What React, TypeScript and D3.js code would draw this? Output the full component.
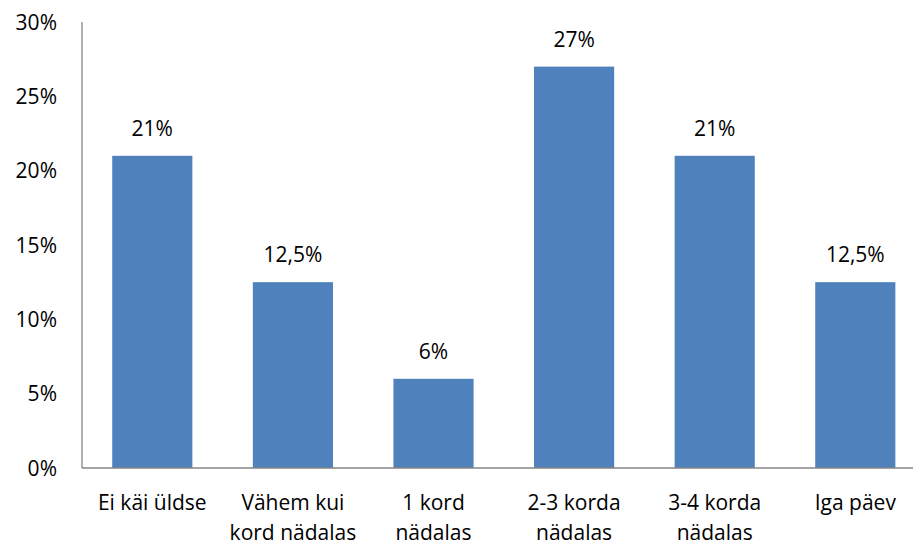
import React from "react";
import * as d3 from "d3";

const categories = [
  ["Ei käi üldse"],
  ["Vähem kui", "kord nädalas"],
  ["1 kord", "nädalas"],
  ["2-3 korda", "nädalas"],
  ["3-4 korda", "nädalas"],
  ["Iga päev"],
];
const values = [21, 12.5, 6, 27, 21, 12.5];
const valueLabels = ["21%", "12,5%", "6%", "27%", "21%", "12,5%"];
const yTicks = [0, 5, 10, 15, 20, 25, 30];

const width = 913;
const height = 547;
const margin = { top: 22, bottom: 79, left: 82 };
const step = 140.6;
const font = "'Open Sans', sans-serif";
const fs = 21;

export default function App() {
  // categories keep running a little past the right edge, as in the source
  const x = d3
    .scaleBand<number>()
    .domain(d3.range(categories.length))
    .range([margin.left, margin.left + step * categories.length])
    .paddingInner(0.43)
    .paddingOuter(0.215);
  const y = d3
    .scaleLinear()
    .domain([0, 30])
    .range([height - margin.bottom, margin.top]);

  return (
    <svg
      width={width}
      height={height}
      style={{ position: "absolute", left: 0, top: 0, fontFamily: font }}
    >
      {values.map((v, i) => (
        <g key={i}>
          <rect
            x={x(i)}
            y={y(v)}
            width={x.bandwidth()}
            height={y(0) - y(v)}
            fill="#4f81bd"
          />
          <text
            x={x(i)! + x.bandwidth() / 2}
            y={y(v) - 20}
            textAnchor="middle"
            fontSize={fs}
            fill="#000"
          >
            {valueLabels[i]}
          </text>
          {categories[i].map((line, j) => (
            <text
              key={j}
              x={x(i)! + x.bandwidth() / 2}
              y={y(0) + 42 + j * 29.5}
              textAnchor="middle"
              fontSize={fs}
              fill="#000"
            >
              {line}
            </text>
          ))}
        </g>
      ))}
      {yTicks.map((t) => (
        <text
          key={t}
          x={57}
          y={y(t)}
          dy="0.36em"
          textAnchor="end"
          fontSize={fs}
          fill="#000"
        >
          {t}%
        </text>
      ))}
      <line
        x1={margin.left}
        x2={margin.left}
        y1={y(30)}
        y2={y(0)}
        stroke="#868686"
        strokeWidth={1.3}
      />
      <line
        x1={margin.left}
        x2={width}
        y1={y(0)}
        y2={y(0)}
        stroke="#868686"
        strokeWidth={1.3}
      />
    </svg>
  );
}
